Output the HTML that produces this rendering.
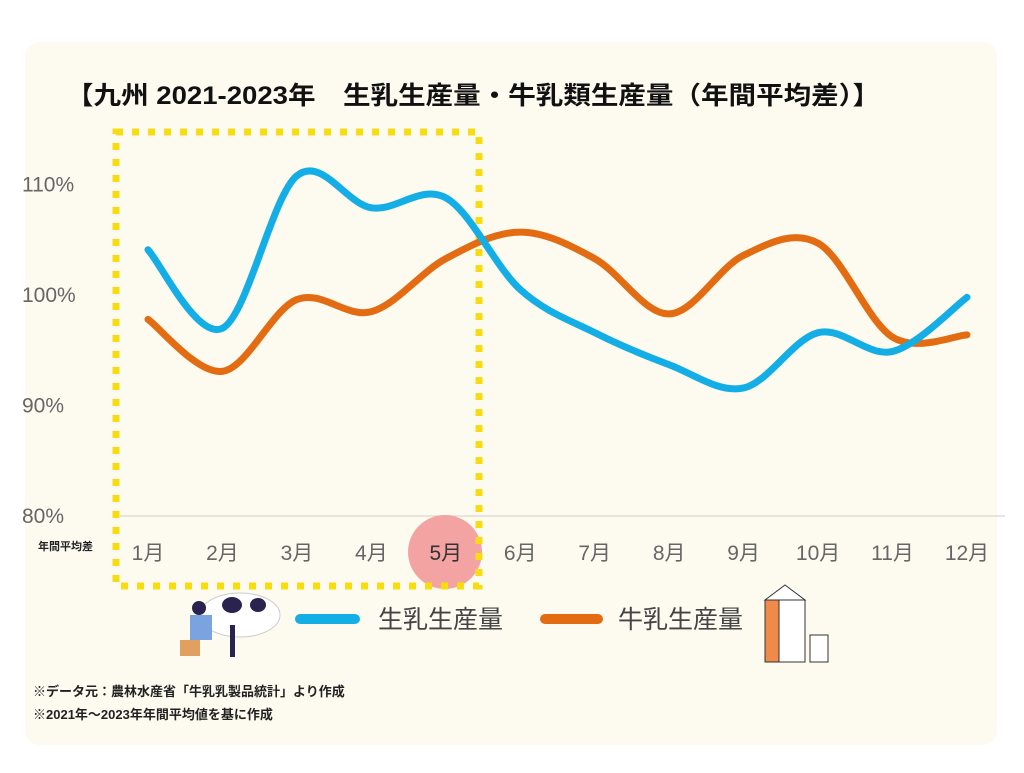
<!DOCTYPE html>
<html><head><meta charset="utf-8"><style>
body{margin:0;width:1024px;height:768px;background:#fff;overflow:hidden;font-family:"Liberation Sans","Noto Sans CJK JP",sans-serif}
svg text{font-family:"Liberation Sans","Noto Sans CJK JP",sans-serif}
</style></head><body>
<svg id="chart" width="1024" height="768" viewBox="0 0 1024 768">
<rect x="25" y="42" width="972" height="703" rx="14" fill="#fdfbf0"/>
<text x="66" y="104" font-size="25" font-weight="bold" fill="#111" textLength="814" lengthAdjust="spacingAndGlyphs">【九州 2021-2023年　生乳生産量・牛乳類生産量（年間平均差）】</text>
<line x1="120" y1="516" x2="1005" y2="516" stroke="#e0ddd0" stroke-width="1.5"/>
<circle cx="445" cy="552" r="37" fill="#f4a3a3"/>
<rect x="116" y="132" width="363" height="454" fill="none" stroke="#f7dc12" stroke-width="7" stroke-dasharray="7 9"/>
<g id="yaxis"></g><g id="xaxis"></g><g id="series"></g>
<text x="38" y="550" font-size="11" font-weight="bold" fill="#222">年間平均差</text>
<g>
<ellipse cx="240" cy="615" rx="40" ry="22" fill="#fff" stroke="#ccc"/>
<ellipse cx="232" cy="605" rx="10" ry="8" fill="#2a2350"/>
<ellipse cx="258" cy="605" rx="8" ry="7" fill="#2a2350"/>
<rect x="230" y="625" width="5" height="32" fill="#2a2350"/>
<rect x="190" y="615" width="22" height="25" fill="#7aa3e0"/>
<rect x="180" y="640" width="20" height="16" fill="#e0a060"/>
<circle cx="199" cy="608" r="7" fill="#2a2350"/>
</g>
<line x1="300" y1="619" x2="355" y2="619" stroke="#14aee6" stroke-width="10" stroke-linecap="round"/>
<text x="378" y="628" font-size="25" fill="#444">生乳生産量</text>
<line x1="545" y1="619" x2="598" y2="619" stroke="#e36c12" stroke-width="10" stroke-linecap="round"/>
<text x="618" y="628" font-size="25" fill="#444">牛乳生産量</text>
<g>
<rect x="765" y="600" width="40" height="62" fill="#fff" stroke="#333"/>
<rect x="765" y="600" width="14" height="62" fill="#f08a4b" stroke="#333"/>
<polygon points="765,600 785,585 805,600" fill="#fff" stroke="#333"/>
<rect x="810" y="635" width="18" height="27" fill="#fff" stroke="#333"/>
</g>
<text x="33" y="696" font-size="13" font-weight="bold" fill="#222">※データ元：農林水産省「牛乳乳製品統計」より作成</text>
<text x="33" y="719" font-size="13" font-weight="bold" fill="#222">※2021年～2023年年間平均値を基に作成</text>
</svg>
<script>
const months=["1月","2月","3月","4月","5月","6月","7月","8月","9月","10月","11月","12月"];
const rawMilk=[104.0,96.9,110.7,107.8,108.7,100.4,96.5,93.6,91.5,96.5,94.8,99.7];
const milk=[97.7,93.0,99.5,98.4,103.2,105.6,103.2,98.2,103.5,104.6,96.1,96.3];
const yTicks=[80,90,100,110];
const yTickLabels=["80%","90%","100%","110%"];
const NS="http://www.w3.org/2000/svg";
function x(i){return 148+i*(967-148)/11;}
function y(v){return 515-(v-80)*11.05;}
function mk(t,a,p){const e=document.createElementNS(NS,t);for(const k in a)e.setAttribute(k,a[k]);p.appendChild(e);return e;}
const ya=document.getElementById('yaxis');
yTicks.forEach((v,i)=>{const t=mk('text',{x:22,y:y(v)+8,'font-size':21,fill:'#666'},ya);t.textContent=yTickLabels[i];

});
const xa=document.getElementById('xaxis');
months.forEach((m,i)=>{const t=mk('text',{x:x(i),y:560,'font-size':21,fill:i==4?'#333':'#666','text-anchor':'middle'},xa);t.textContent=m;

});
function path(vals){const p=vals.map((v,i)=>[x(i),y(v)]);let d=`M${p[0][0]},${p[0][1]}`;
for(let i=0;i<p.length-1;i++){const p0=p[i-1]||p[i],p1=p[i],p2=p[i+1],p3=p[i+2]||p2;
d+=` C${p1[0]+(p2[0]-p0[0])/6},${p1[1]+(p2[1]-p0[1])/6} ${p2[0]-(p3[0]-p1[0])/6},${p2[1]-(p3[1]-p1[1])/6} ${p2[0]},${p2[1]}`;}return d;}
const s=document.getElementById('series');
const l2=mk('path',{d:path(milk),fill:'none',stroke:'#e36c12','stroke-width':7,'stroke-linecap':'round'},s);


const l1=mk('path',{d:path(rawMilk),fill:'none',stroke:'#14aee6','stroke-width':7,'stroke-linecap':'round'},s);


</script>
</body></html>
